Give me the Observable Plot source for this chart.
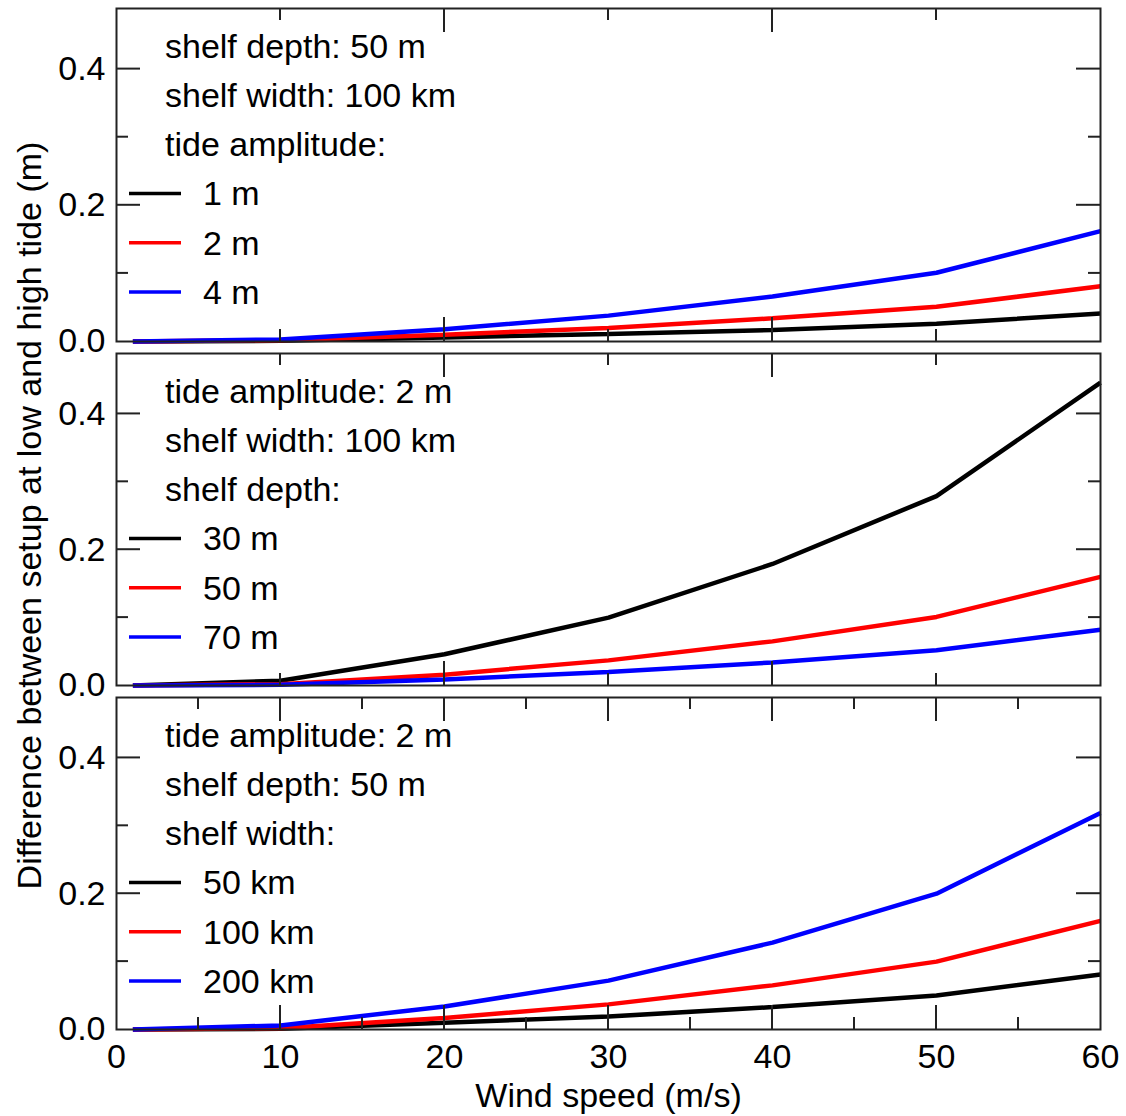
<!DOCTYPE html>
<html><head><meta charset="utf-8">
<script src="https://cdn.jsdelivr.net/npm/d3@7"></script>
<script src="https://cdn.jsdelivr.net/npm/@observablehq/plot@0.6"></script>
<style>
html,body{margin:0;padding:0;background:#fff;}
#chart{position:relative;width:1126px;height:1116px;font-family:"Liberation Sans",Arial,Helvetica,sans-serif;}
#chart svg{position:absolute;left:0;}
</style></head><body><div id="chart"></div>
<script>
// ---- data ----
const windSpeed = [1, 10, 20, 30, 40, 50, 60];
const seriesColors = ["black", "red", "blue"];

const p1Headers = ["shelf depth: 50 m", "shelf width: 100 km", "tide amplitude:"];
const p1Labels = ["1 m", "2 m", "4 m"];
const p1Amp1 = [0, 0.001, 0.006, 0.011, 0.017, 0.026, 0.041];
const p1Amp2 = [0, 0.002, 0.010, 0.020, 0.034, 0.051, 0.081];
const p1Amp4 = [0, 0.003, 0.018, 0.038, 0.066, 0.101, 0.162];

const p2Headers = ["tide amplitude: 2 m", "shelf width: 100 km", "shelf depth:"];
const p2Labels = ["30 m", "50 m", "70 m"];
const p2Depth30 = [0, 0.007, 0.046, 0.100, 0.179, 0.279, 0.446];
const p2Depth50 = [0, 0.002, 0.016, 0.037, 0.065, 0.101, 0.160];
const p2Depth70 = [0, 0.001, 0.009, 0.020, 0.034, 0.052, 0.082];

const p3Headers = ["tide amplitude: 2 m", "shelf depth: 50 m", "shelf width:"];
const p3Labels = ["50 km", "100 km", "200 km"];
const p3Width50 = [0, 0.001, 0.010, 0.019, 0.033, 0.050, 0.081];
const p3Width100 = [0, 0.002, 0.017, 0.037, 0.065, 0.100, 0.160];
const p3Width200 = [0, 0.006, 0.034, 0.072, 0.128, 0.200, 0.319];

const yTickValues = [0, 0.2, 0.4];
const yMinorValues = [0.1, 0.3];
const xTickValues = [0, 10, 20, 30, 40, 50, 60];
const xMajorWide = [20, 40];
const xMinorWide = [10, 30, 50];
const xMajorFine = [10, 20, 30, 40, 50];
const xMinorFine = [5, 15, 25, 35, 45, 55];
const xTitle = "Wind speed (m/s)";
const yTitle = "Difference between setup at low and high tide (m)";

// ---- helpers ----
const FONT = '"Liberation Sans", Arial, Helvetica, sans-serif';
const FS = 34;

function frameTicks(xMajor, xMinor, yMajor, yMinor) {
  return (index, {x, y}, values, dims) => {
    const {width, height, marginTop, marginRight, marginBottom, marginLeft} = dims;
    const top = marginTop, bottom = height - marginBottom, left = marginLeft, right = width - marginRight;
    const g = d3.create("svg:g").attr("stroke", "#222").attr("stroke-width", 2);
    const add = (x1, y1, x2, y2) => g.append("line").attr("x1", x1).attr("y1", y1).attr("x2", x2).attr("y2", y2);
    const xt = (vals, len) => vals.forEach(v => { const p = x(v); add(p, bottom, p, bottom - len); add(p, top, p, top + len); });
    const yt = (vals, len) => vals.forEach(v => { const p = y(v); add(left, p, left + len, p); add(right, p, right - len, p); });
    xt(xMajor, 24); xt(xMinor, 12); yt(yMajor, 24); yt(yMinor, 12);
    return g.node();
  };
}

function legendMark(headers, labels, colors) {
  return (index, scales, values, dims) => {
    const {marginTop, marginLeft} = dims;
    const g = d3.create("svg:g").attr("font-size", FS).attr("font-family", FONT)
      .attr("fill", "black").attr("text-anchor", "start");
    const base = marginTop + 49.5, step = 49.3;
    headers.forEach((t, i) => g.append("text").attr("x", marginLeft + 49).attr("y", base + i * step).text(t));
    labels.forEach((t, j) => {
      const yb = base + (headers.length + j) * step;
      g.append("line").attr("x1", marginLeft + 13).attr("x2", marginLeft + 65)
        .attr("y1", yb - 12).attr("y2", yb - 12).attr("stroke", colors[j]).attr("stroke-width", 3.5);
      g.append("text").attr("x", marginLeft + 87).attr("y", yb).text(t);
    });
    return g.node();
  };
}

function panel({series, headers, labels, top, height, marginTop, marginBottom, xMajor, xMinor, bottomAxis, yLabel}) {
  const marks = [];
  series.forEach((vals, i) => {
    const rows = windSpeed.map((w, k) => ({x: w, y: vals[k]}));
    marks.push(Plot.line(rows, {x: "x", y: "y", stroke: seriesColors[i], strokeWidth: 4.5, strokeLinejoin: "miter", strokeLinecap: "butt"}));
  });
  marks.push(Plot.frame({stroke: "#222", strokeWidth: 2}));
  marks.push(frameTicks(xMajor, xMinor, yTickValues.slice(1), yMinorValues));
  marks.push(Plot.axisY({ticks: yTickValues, tickSize: 0, tickPadding: 11, tickFormat: d3.format(".1f"), fontSize: FS, label: null}));
  marks.push(legendMark(headers, labels, seriesColors));
  if (bottomAxis) {
    marks.push(Plot.axisX({ticks: xTickValues, tickSize: 0, tickPadding: 14, tickFormat: d3.format("d"), fontSize: FS, label: null}));
    marks.push(Plot.text([xTitle], {frameAnchor: "bottom", lineAnchor: "middle", textAnchor: "middle", dy: 67, text: d => d, fontSize: FS, fill: "black"}));
  }
  if (yLabel) {
    marks.push(Plot.text([yTitle], {frameAnchor: "left", textAnchor: "middle", lineAnchor: "middle", rotate: -90, dx: -86, dy: -4, text: d => d, fontSize: FS, fill: "black"}));
  }
  const svg = Plot.plot({
    width: 1126, height,
    marginLeft: 116, marginRight: 26, marginTop, marginBottom,
    x: {domain: [0, 60], axis: null},
    y: {domain: [0, 0.489], axis: null},
    style: {fontFamily: FONT, fontSize: FS + "px", color: "black", overflow: "visible", background: "transparent"},
    marks
  });
  svg.style.top = top + "px";
  document.getElementById("chart").appendChild(svg);
}

panel({series: [p1Amp1, p1Amp2, p1Amp4], headers: p1Headers, labels: p1Labels,
  top: 0, height: 347, marginTop: 8, marginBottom: 6, xMajor: xMajorWide, xMinor: xMinorWide});
panel({series: [p2Depth30, p2Depth50, p2Depth70], headers: p2Headers, labels: p2Labels,
  top: 347, height: 344, marginTop: 6, marginBottom: 6, xMajor: xMajorWide, xMinor: xMinorWide, yLabel: true});
panel({series: [p3Width50, p3Width100, p3Width200], headers: p3Headers, labels: p3Labels,
  top: 691, height: 425, marginTop: 6, marginBottom: 87, xMajor: xMajorFine, xMinor: xMinorFine, bottomAxis: true});
</script></body></html>
